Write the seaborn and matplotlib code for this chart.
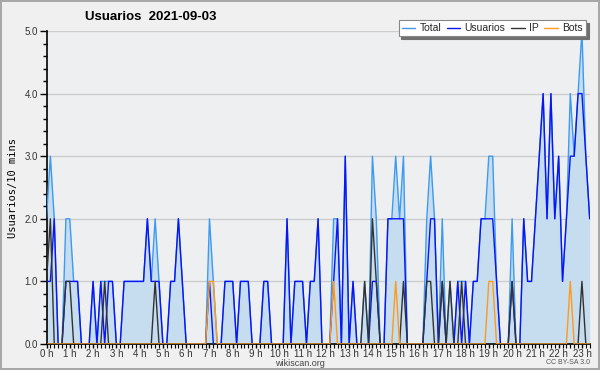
import numpy as np
import pandas as pd
import matplotlib
matplotlib.use("Agg")
import matplotlib.pyplot as plt
from matplotlib.ticker import MultipleLocator, FixedLocator, FixedFormatter
from matplotlib.lines import Line2D
import seaborn as sns

title = "Usuarios  2021-09-03"
ylabel = "Usuarios/10 mins"
series_names = ["Total", "Usuarios", "IP", "Bots"]

# values per 10-minute slot (index 0 = 00:00)
total = [2, 3, 2, 0, 0, 2, 2, 1, 1, 0, 0, 0, 1, 0, 1, 1, 1, 1, 0, 0,
         1, 1, 1, 1, 1, 1, 2, 1, 2, 1, 0, 0, 1, 1, 2, 1, 0, 0, 0, 0,
         0, 0, 2, 1, 0, 0, 1, 1, 1, 0, 1, 1, 1, 0, 0, 0, 1, 1, 0, 0,
         0, 0, 2, 0, 1, 1, 1, 0, 1, 1, 2, 0, 0, 0, 2, 2, 0, 3, 0, 1,
         0, 0, 1, 0, 3, 2, 0, 0, 2, 2, 3, 2, 3, 0, 0, 0, 0, 0, 2, 3,
         2, 0, 2, 0, 1, 0, 1, 1, 1, 0, 1, 1, 2, 2, 3, 3, 1, 0, 0, 0,
         2, 0, 0, 2, 1, 1, 2, 3, 4, 2, 4, 2, 3, 1, 2, 4, 3, 4, 5, 3,
         2]
usuarios = [1, 1, 2, 0, 0, 1, 1, 1, 1, 0, 0, 0, 1, 0, 1, 0, 1, 1, 0, 0,
            1, 1, 1, 1, 1, 1, 2, 1, 1, 1, 0, 0, 1, 1, 2, 1, 0, 0, 0, 0,
            0, 0, 1, 0, 0, 0, 1, 1, 1, 0, 1, 1, 1, 0, 0, 0, 1, 1, 0, 0,
            0, 0, 2, 0, 1, 1, 1, 0, 1, 1, 2, 0, 0, 0, 1, 2, 0, 3, 0, 1,
            0, 0, 0, 0, 1, 1, 0, 0, 2, 2, 2, 2, 2, 0, 0, 0, 0, 0, 1, 2,
            2, 0, 1, 0, 0, 0, 1, 0, 1, 0, 1, 1, 2, 2, 2, 2, 1, 0, 0, 0,
            1, 0, 0, 2, 1, 1, 2, 3, 4, 2, 4, 2, 3, 1, 2, 3, 3, 4, 4, 3,
            2]
ip = [1, 2, 0, 0, 0, 1, 1, 0, 0, 0, 0, 0, 0, 0, 0, 1, 0, 0, 0, 0,
      0, 0, 0, 0, 0, 0, 0, 0, 1, 0, 0, 0, 0, 0, 0, 0, 0, 0, 0, 0,
      0, 0, 0, 0, 0, 0, 0, 0, 0, 0, 0, 0, 0, 0, 0, 0, 0, 0, 0, 0,
      0, 0, 0, 0, 0, 0, 0, 0, 0, 0, 0, 0, 0, 0, 0, 0, 0, 0, 0, 0,
      0, 0, 1, 0, 2, 1, 0, 0, 0, 0, 0, 0, 1, 0, 0, 0, 0, 0, 1, 1,
      0, 0, 1, 0, 1, 0, 0, 1, 0, 0, 0, 0, 0, 0, 0, 0, 0, 0, 0, 0,
      1, 0, 0, 0, 0, 0, 0, 0, 0, 0, 0, 0, 0, 0, 0, 0, 0, 0, 1, 0,
      0]
bots = [0, 0, 0, 0, 0, 0, 0, 0, 0, 0, 0, 0, 0, 0, 0, 0, 0, 0, 0, 0,
        0, 0, 0, 0, 0, 0, 0, 0, 0, 0, 0, 0, 0, 0, 0, 0, 0, 0, 0, 0,
        0, 0, 1, 1, 0, 0, 0, 0, 0, 0, 0, 0, 0, 0, 0, 0, 0, 0, 0, 0,
        0, 0, 0, 0, 0, 0, 0, 0, 0, 0, 0, 0, 0, 0, 1, 0, 0, 0, 0, 0,
        0, 0, 0, 0, 0, 0, 0, 0, 0, 0, 1, 0, 0, 0, 0, 0, 0, 0, 0, 0,
        0, 0, 0, 0, 0, 0, 0, 0, 0, 0, 0, 0, 0, 0, 1, 1, 0, 0, 0, 0,
        0, 0, 0, 0, 0, 0, 0, 0, 0, 0, 0, 0, 0, 0, 0, 1, 0, 0, 0, 0,
        0]
hour_labels = [f"{h} h" for h in range(24)]
yticks = [0, 1, 2, 3, 4, 5]
ytick_labels = ["0.0", "1.0", "2.0", "3.0", "4.0", "5.0"]

hours = np.arange(len(total)) / 6.0
df = pd.DataFrame({"hora": hours, "Total": total, "Usuarios": usuarios,
                   "IP": ip, "Bots": bots})

colors = {"Total": "#3d9af0", "Usuarios": "#0a14f5", "IP": "#333333", "Bots": "#ff9a1a"}

sns.set_theme(style="white")
plt.rcParams["font.family"] = ["Liberation Sans", "DejaVu Sans"]

fig = plt.figure(figsize=(6.0, 3.7), dpi=100)
fig.patch.set_facecolor("#f0f0f0")
fig.patch.set_edgecolor("#a8a8a8")
fig.patch.set_linewidth(1.5)
ax = fig.add_axes([46.5 / 600, 26 / 370, (589.7 - 46.5) / 600, (344 - 31) / 370])
ax.set_facecolor("#eeeff1")

ax.fill_between(df["hora"], 0, df["Total"], color="#c6dcef", lw=0, zorder=1)
for name in series_names:
    sns.lineplot(data=df, x="hora", y=name, ax=ax, color=colors[name],
                 lw=1.0, zorder=3, legend=False)

ax.set_xlim(0, hours[-1])
ax.set_ylim(0, 5)
for y in yticks[1:]:
    ax.axhline(y, color="#cdcdcd", lw=1.0, zorder=0.5)

ax.yaxis.set_major_locator(FixedLocator(yticks))
ax.yaxis.set_major_formatter(FixedFormatter(ytick_labels))
ax.yaxis.set_minor_locator(MultipleLocator(0.2))
ax.xaxis.set_major_locator(FixedLocator(list(range(24))))
ax.xaxis.set_major_formatter(FixedFormatter(hour_labels))
ax.xaxis.set_minor_locator(MultipleLocator(1 / 6))
ax.tick_params(axis="both", which="both", direction="out", colors="black",
               labelcolor="#333333", labelsize=7, bottom=True, left=True)
ax.tick_params(axis="y", which="major", length=5, width=1, pad=1)
ax.tick_params(axis="y", which="minor", length=3, width=1)
ax.tick_params(axis="x", which="major", length=3, width=1, pad=0.3)
ax.tick_params(axis="x", which="minor", length=3, width=0.8)

for s in ["top", "right"]:
    ax.spines[s].set_visible(False)
for s in ["left", "bottom"]:
    ax.spines[s].set_color("black")
    ax.spines[s].set_linewidth(1.2)

ax.set_xlabel("")
ax.set_ylabel(ylabel, family="DejaVu Sans Mono", fontsize=7.5, color="black", labelpad=5)

fig.text(85 / 600, 1 - 17 / 370, title, fontsize=9.5, fontweight="bold",
         ha="left", va="center", color="black")

handles = [Line2D([0], [0], color=colors[n], lw=1.0) for n in series_names]
leg = fig.legend(handles, series_names, loc="upper right",
                 bbox_to_anchor=(591 / 600, 1 - 15 / 370), ncol=4, fontsize=7.5,
                 frameon=True, fancybox=False, handlelength=1.3, handletextpad=0.4,
                 columnspacing=0.55, borderpad=0.3,
                 shadow={"color": "#707070", "alpha": 1.0, "ox": 2, "oy": -2})
leg.get_frame().set_facecolor("white")
leg.get_frame().set_edgecolor("#888888")
leg.get_frame().set_linewidth(0.8)
leg.get_frame().set_alpha(1.0)

fig.text(300 / 600, 1 - 363 / 370, "wikiscan.org", fontsize=6.5, color="#444444",
         ha="center", va="center")
fig.text(590 / 600, 1 - 363 / 370, "CC BY-SA 3.0", fontsize=5, color="#555555",
         ha="right", va="center")

fig.savefig("out.png", dpi=100, facecolor=fig.get_facecolor(), edgecolor=fig.get_edgecolor())
